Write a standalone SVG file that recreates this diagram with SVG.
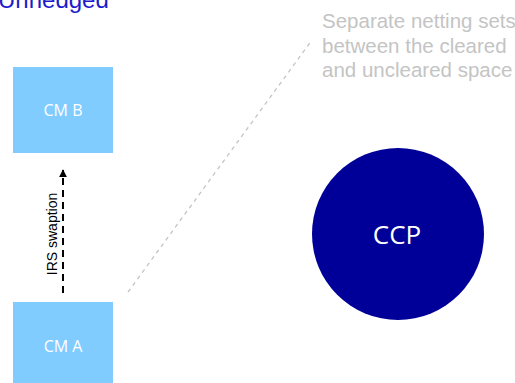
<svg xmlns="http://www.w3.org/2000/svg" width="515" height="383" viewBox="0 0 515 383">
<defs>
<style>
.box{fill:#80CCFF}
.lbl{font-family:"Open Sans","Noto Sans",sans-serif;fill:#ffffff;text-anchor:middle}
.note{font-family:"Liberation Sans",Arial,sans-serif;font-size:20.5px;fill:#c4c4c4}
</style>
<marker id="ah" viewBox="0 0 10 10" refX="9" refY="5" markerWidth="4" markerHeight="4" orient="auto" markerUnits="strokeWidth">
<path d="M0,0 L10,5 L0,10 z" fill="#000"/>
</marker>
</defs>
<rect width="515" height="383" fill="#ffffff"/>
<text x="-2" y="8" font-family="Liberation Sans, Arial, sans-serif" font-size="24" fill="#1c1ccc">Unhedged</text>
<g id="connectors">
<line x1="63" y1="293" x2="63" y2="170" stroke="#000" stroke-width="2" stroke-dasharray="7,5" marker-end="url(#ah)"/>
<text x="0" y="0" transform="translate(57,234) rotate(-90)" font-family="Liberation Sans, Arial, sans-serif" font-size="14" fill="#000" text-anchor="middle">IRS swaption</text>
<line x1="128" y1="292" x2="312" y2="40" stroke="#c4c4c4" stroke-width="1.3" stroke-dasharray="4,4"/>
</g>
<g id="cmB">
<rect class="box" x="13" y="67" width="100" height="86"/>
<text class="lbl" x="63" y="116" font-size="16">CM B</text>
</g>
<g id="cmA">
<rect class="box" x="13" y="302" width="100" height="90"/>
<text class="lbl" x="63" y="352" font-size="16">CM A</text>
</g>
<g id="ccp">
<circle cx="398" cy="234" r="86" fill="#000099"/>
<text class="lbl" x="397" y="244" font-size="26">CCP</text>
</g>
<g id="note">
<text class="note" x="322" y="28">Separate netting sets</text>
<text class="note" x="322" y="53">between the cleared</text>
<text class="note" x="322" y="77">and uncleared space</text>
</g>
</svg>
